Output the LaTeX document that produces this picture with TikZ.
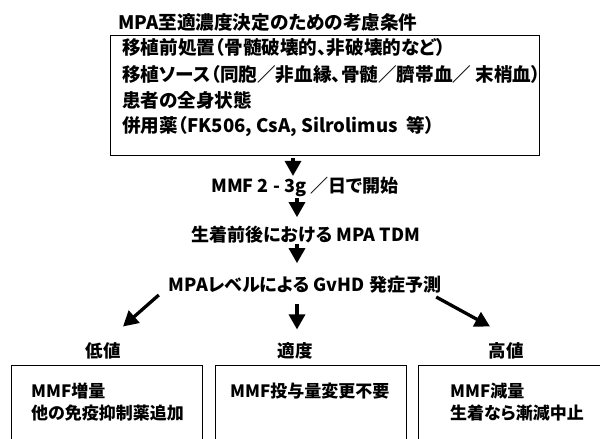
\documentclass[tikz,border=0pt]{standalone}
\usepackage{fontspec}
\setmainfont{Noto Sans CJK JP}[RawFeature=+palt]
\usetikzlibrary{arrows.meta}
\begin{document}
\begin{tikzpicture}[x=1pt,y=-1pt,
  txt/.style={font=\fontsize{17}{20}\selectfont\bfseries, inner sep=0pt},
  txtbig/.style={font=\fontsize{18.6}{22}\selectfont\bfseries, inner sep=0pt},
  txtstep/.style={font=\fontsize{18}{21}\selectfont\bfseries, inner sep=0pt},
  txtlab/.style={font=\fontsize{17.5}{21}\selectfont\bfseries, inner sep=0pt},
  box/.style={draw, line width=1.3pt, inner sep=0pt},
  arr/.style={line width=3.3pt, -{Triangle[width=16pt,length=15pt]}}]
\useasboundingbox (0,0) rectangle (600,439);
\clip (0,0) rectangle (600,439);
% title and conditions box
\node[txtbig, anchor=west] (title) at (118,22) {MPA至適濃度決定のための考慮条件};
\node[box, anchor=north west, minimum width=429pt, minimum height=120pt] (cond) at (110,35) {};
\node[txtbig, anchor=west] (c1) at (122,47) {移植前処置（骨髄破壊的、非破壊的など）};
\node[txtbig, anchor=west] (c2) at (122,74) {移植ソース（同胞／非血縁、骨髄／臍帯血／ 末梢血）};
\node[txtbig, anchor=west] (c3) at (122,100) {患者の全身状態};
\node[txtbig, anchor=west] (c4) at (122,127) {併用薬（FK506, CsA, Silrolimus\ \ 等）};
% steps
\node[txtstep] (start) at (305,187) {MMF 2 - 3g ／日で開始};
\node[txtstep] (tdm) at (306,235) {生着前後における MPA TDM};
\node[txtstep] (pred) at (305,285) {MPAレベルによる GvHD 発症予測};
% outcome labels
\node[txtlab] (low) at (103,351) {低値};
\node[txtlab] (mid) at (295,351) {適度};
\node[txtlab] (high) at (506,351) {高値};
% bottom boxes
\node[box, anchor=north west, minimum width=191pt, minimum height=100pt] (bl) at (11,365) {};
\node[box, anchor=north west, minimum width=191pt, minimum height=100pt] (bm) at (215,365) {};
\node[box, anchor=north west, minimum width=200pt, minimum height=100pt] (br) at (418,365) {};
\node[txt, anchor=west] (l1) at (31,391) {MMF増量};
\node[txt, anchor=west] (l2) at (31,413) {他の免疫抑制薬追加};
\node[txt, anchor=west] (m1) at (230,391) {MMF投与量変更不要};
\node[txt, anchor=west] (r1) at (450,391) {MMF減量};
\node[txt, anchor=west] (r2) at (450,413) {生着なら漸減中止};
% arrows
\draw[arr, shorten <=2pt, shorten >=1pt] (cond.south -| 293,0) -- (start.north -| 293,0);
\draw[arr, shorten <=1pt, shorten >=9pt] (start.south -| 297,0) -- (tdm.north -| 297,0);
\draw[arr, shorten <=0pt, shorten >=13pt] (tdm.south -| 297,0) -- (pred.north -| 297,0);
\draw[arr, shorten <=10pt, shorten >=13pt] (pred.south -| 297,0) -- (mid.north -| 297,0);
\draw[arr] ([shift={(-10,10)}]pred.west) -- ([shift={(20,-16)}]low.north);
\draw[arr] ([shift={(-5,12)}]pred.east) -- ([shift={(-16,-16)}]high.north);
\end{tikzpicture}
\end{document}
